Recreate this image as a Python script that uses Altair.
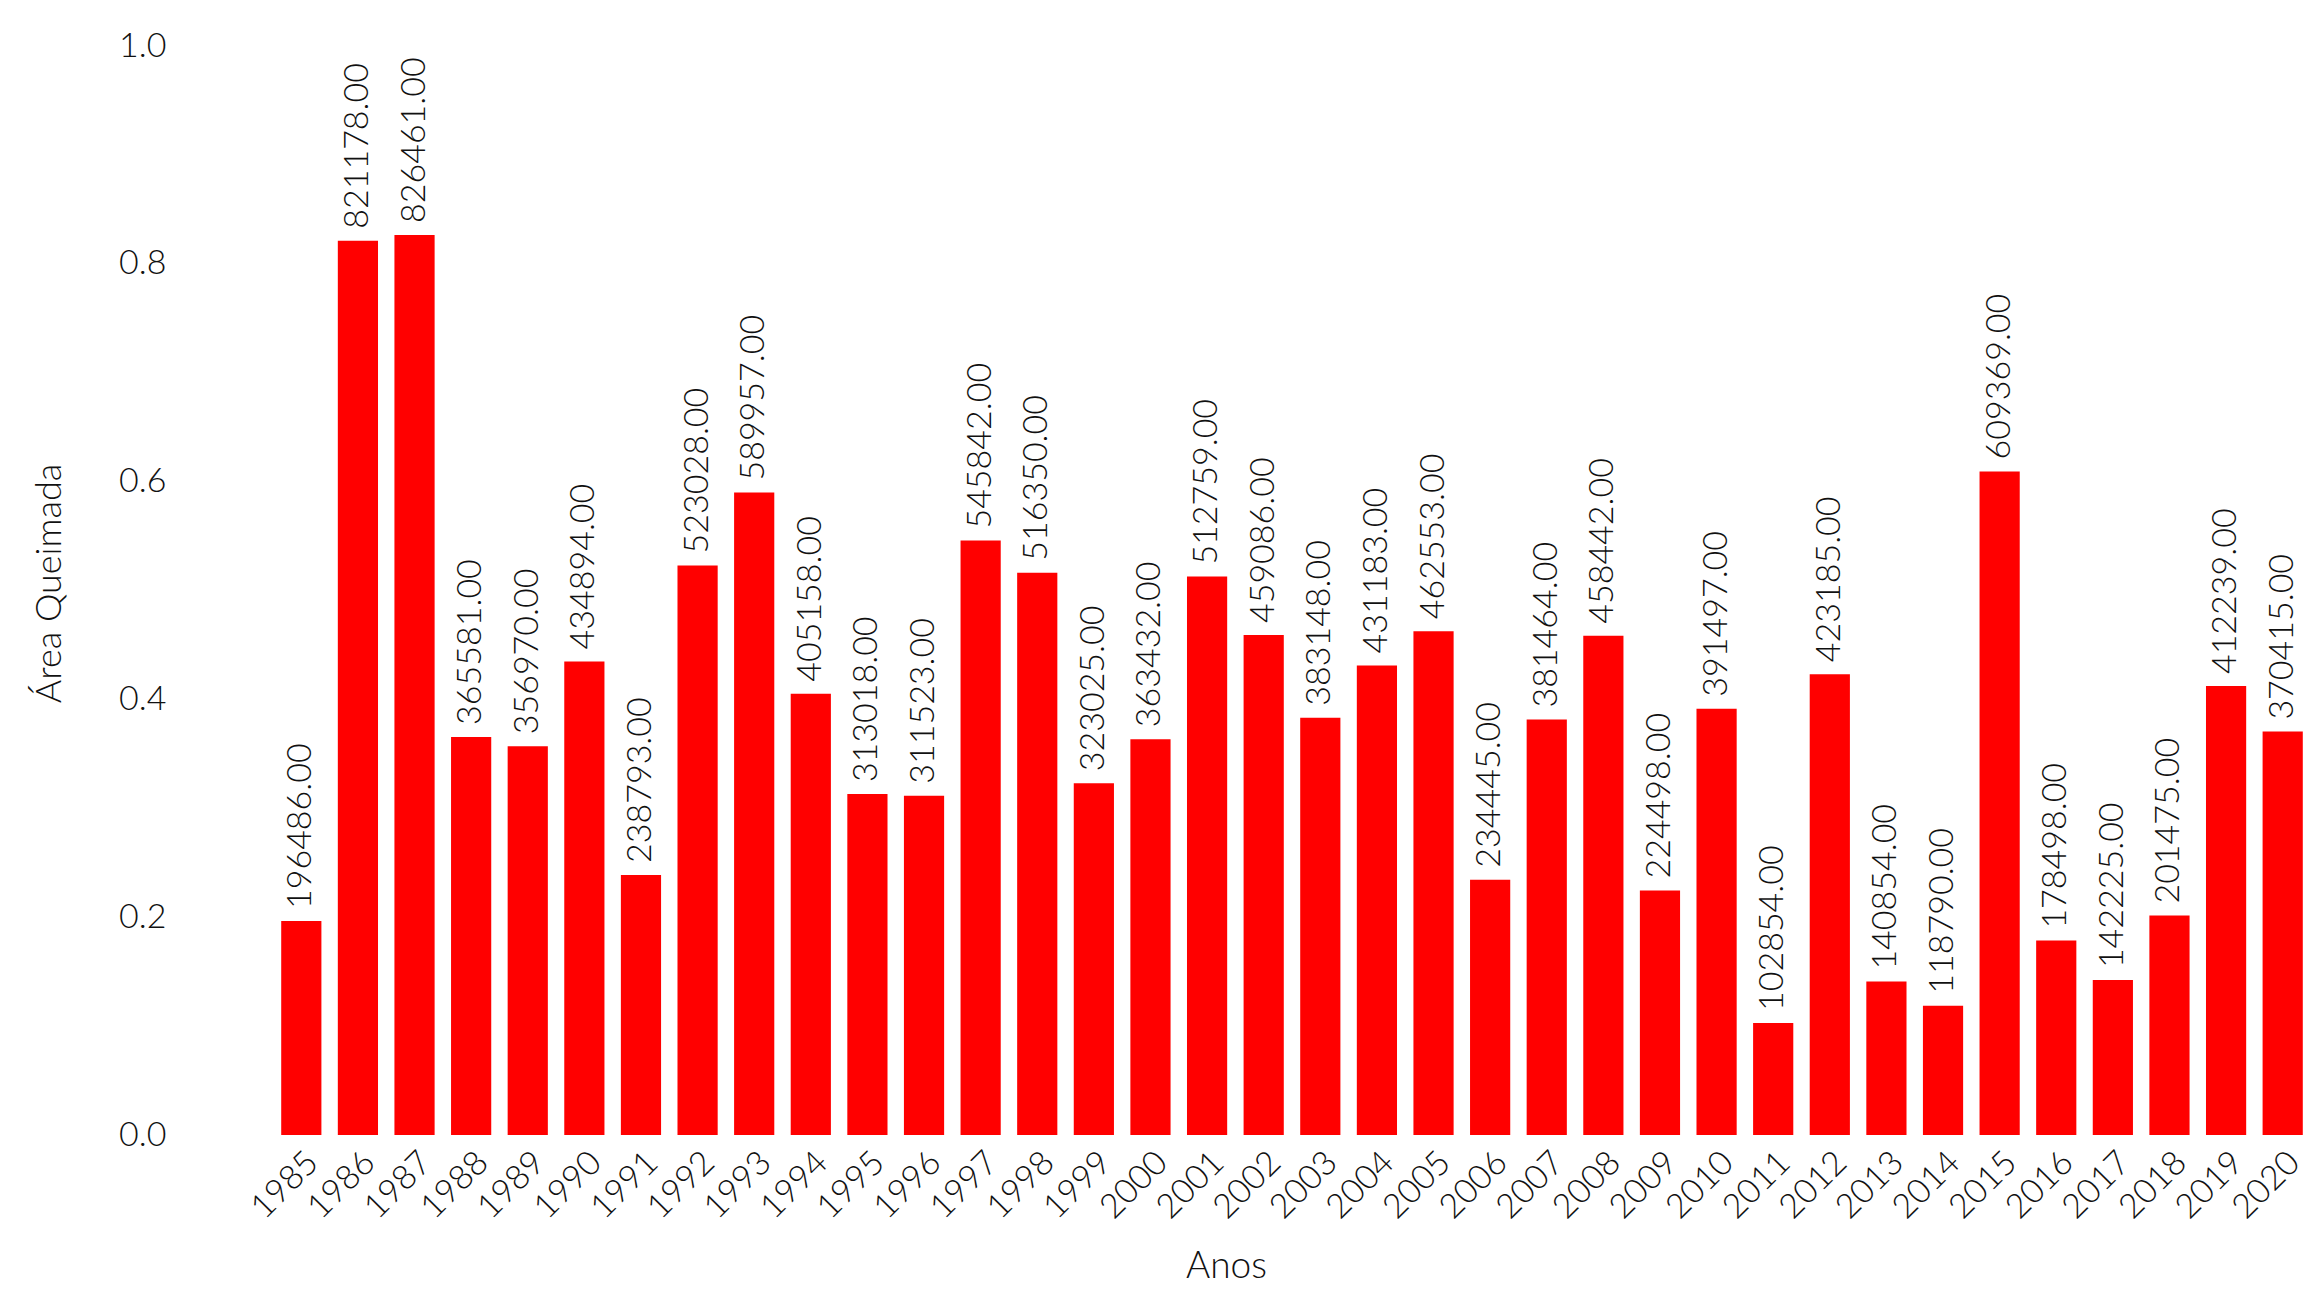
import altair as alt
import pandas as pd

years = [str(y) for y in range(1985, 2021)]
values = [196486, 821178, 826461, 365581, 356970, 434894, 238793, 523028, 589957, 405158,
          313018, 311523, 545842, 516350, 323025, 363432, 512759, 459086, 383148, 431183,
          462553, 234445, 381464, 458442, 224498, 391497, 102854, 423185, 140854, 118790,
          609369, 178498, 142225, 201475, 412239, 370415]
y_ticks = [0.0, 0.2, 0.4, 0.6, 0.8, 1.0]

df = pd.DataFrame({"Ano": years, "valor": values})
df["mi"] = df["valor"] / 1e6

FONT = "Lato"

x = alt.X("Ano:N", sort=years, title="Anos",
          scale=alt.Scale(paddingInner=0.29, paddingOuter=0.145),
          axis=alt.Axis(labelAngle=-45, labelAlign="center", labelBaseline="middle",
                        labelPadding=50, labelOffset=-16, ticks=False, tickSize=0,
                        domain=False, grid=False, labelFont=FONT, labelFontSize=34,
                        labelFontWeight=300, labelColor="#111111",
                        titleFont=FONT, titleFontSize=37, titleFontWeight=300,
                        titleColor="#111111", titleX=953, titleY=131,
                        titleBaseline="middle", titleAlign="center"))

y = alt.Y("mi:Q", title="Área Queimada",
          scale=alt.Scale(domain=[0, 1.0], nice=False, zero=True),
          axis=alt.Axis(values=y_ticks, format=".1f", ticks=False, tickSize=0,
                        domain=False, grid=False, labelPadding=107,
                        labelFont=FONT, labelFontSize=34, labelFontWeight=300,
                        labelColor="#111111",
                        titleFont=FONT, titleFontSize=36, titleFontWeight=300,
                        titleColor="#111111", titleX=-224, titleY=537,
                        titleAngle=-90, titleBaseline="middle", titleAlign="center"))

bars = alt.Chart(df).mark_bar(color="#ff0000").encode(x=x, y=y)

text = alt.Chart(df).mark_text(angle=270, align="left", baseline="middle", dx=12,
                               font=FONT, fontSize=34, fontWeight=300,
                               color="#111111").encode(
    x=alt.X("Ano:N", sort=years),
    y=alt.Y("mi:Q"),
    text=alt.Text("valor:Q", format=".2f"),
)

chart = alt.layer(bars, text).properties(
    width=2038, height=1089,
    background="white",
    padding={"left": 265, "top": 38, "right": 0, "bottom": 150},
    autosize=alt.AutoSizeParams(type="none"),
).configure_view(stroke="transparent", strokeWidth=0)

chart.save("out.html", embed_options={"renderer": "svg", "actions": False})
